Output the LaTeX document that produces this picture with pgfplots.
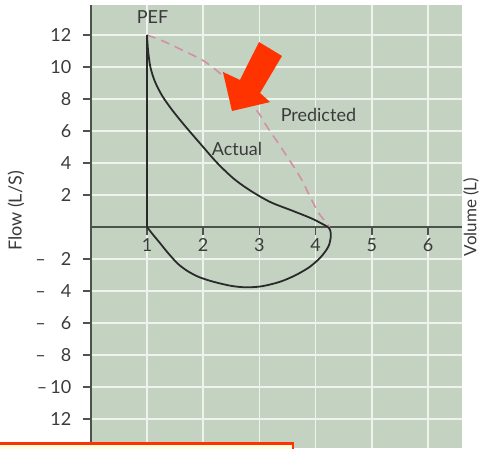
\documentclass[border=0pt]{standalone}
\usepackage{fontspec}
\setmainfont{Lato}
\usepackage{pgfplots}
\pgfplotsset{compat=1.18}
\definecolor{bg}{HTML}{C4D2C2}
\definecolor{gridc}{HTML}{EEF3EC}
\definecolor{axisc}{HTML}{4A544A}
\definecolor{curve}{HTML}{2A2A2A}
\definecolor{pred}{HTML}{D48FA7}
\definecolor{txt}{HTML}{3A3A3A}
\definecolor{arrowred}{HTML}{FF3300}
\definecolor{boxfill}{HTML}{FFFDE0}
\begin{document}
\begin{tikzpicture}[x=1pt,y=1pt]
\useasboundingbox (0,0) rectangle (481,448);
\begin{axis}[
  at={(90.8pt,0pt)}, anchor=south west,
  scale only axis, width=371.2pt, height=443pt,
  xmin=0, xmax=6.605, ymin=-13.8125, ymax=13.875,
  axis x line=middle, axis y line=left,
  x axis line style={-, draw=axisc, line width=2.6pt},
  y axis line style={-, draw=axisc, line width=2pt},
  axis background/.style={fill=bg},
  grid=major,
  major grid style={draw=gridc, line width=1.7pt},
  xtick={1,2,3,4,5,6},
  ytick={-12,-10,-8,-6,-4,-2,2,4,6,8,10,12},
  yticklabels={12,{–\hspace{3pt}10},{–\hspace{15pt}8},{–\hspace{15pt}6},{–\hspace{15pt}4},{–\hspace{15pt}2},2,4,6,8,10,12},
  tick align=outside,
  major tick length=8pt,
  tick style={draw=axisc, line width=1.6pt},
  ticklabel style={font=\fontsize{18}{20}\selectfont, text=txt},
  yticklabel style={xshift=-8pt},
  /pgf/number format/assume math mode=true,
]
% Predicted (dashed)
\addplot[draw=pred, line width=1.6pt, dash pattern=on 9pt off 6pt, smooth] coordinates {
 (1,12) (1.3,11.6) (1.6,11.1) (2.0,10.4) (2.3,9.6) (2.6,8.6) (2.95,7.3) (3.13,6.3) (3.4,4.9) (3.72,3.15) (3.9,1.9) (4.05,0.9) (4.2,0.23) (4.25,0)
};
% Actual: vertical rise
\addplot[draw=curve, line width=1.8pt] coordinates {(1,0) (1,12)};
% Actual: expiratory curve
\addplot[draw=curve, line width=1.8pt, smooth] coordinates {
 (1,12) (1.02,11) (1.06,10) (1.14,9.1) (1.27,8.2) (1.45,7.3) (1.68,6.3) (1.95,5.2) (2.25,4.0) (2.55,3.0) (2.85,2.25) (3.2,1.55) (3.6,1.0) (3.95,0.5) (4.22,0)
};
% Actual: inspiratory loop
\addplot[draw=curve, line width=1.8pt, smooth] coordinates {
 (1,0) (1.1,-0.45) (1.23,-1.0) (1.38,-1.65) (1.55,-2.3) (1.72,-2.75) (1.92,-3.12) (2.18,-3.42) (2.5,-3.68) (2.77,-3.77) (3.05,-3.7) (3.37,-3.42) (3.65,-3.0) (3.9,-2.48) (4.1,-1.85) (4.23,-1.2) (4.27,-0.6) (4.26,-0.2) (4.22,0)
};
\node[text=txt, font=\fontsize{18}{20}\selectfont] at (axis cs:1.1,13.1) {PEF};
\node[text=txt, font=\fontsize{18}{20}\selectfont] at (axis cs:4.05,7.0) {Predicted};
\node[text=txt, font=\fontsize{18}{20}\selectfont] at (axis cs:2.6,4.86) {Actual};
\fill[arrowred] (axis cs:2.993,11.56) -- (axis cs:3.402,10.69) -- (axis cs:3.011,8.375) -- (axis cs:3.189,7.81) -- (axis cs:2.512,7.25) -- (axis cs:2.351,9.69) -- (axis cs:2.654,9.19) -- cycle;
\end{axis}
\node[rotate=90, text=txt, font=\fontsize{18}{20}\selectfont] at (16,237) {Flow (L/S)};
\node[rotate=90, text=txt, font=\fontsize{17}{19}\selectfont] at (471,231) {Volume (L)};
\draw[draw=arrowred, line width=2.5pt, fill=boxfill] (-5,-20) rectangle (293,4.5);
\end{tikzpicture}
\end{document}
